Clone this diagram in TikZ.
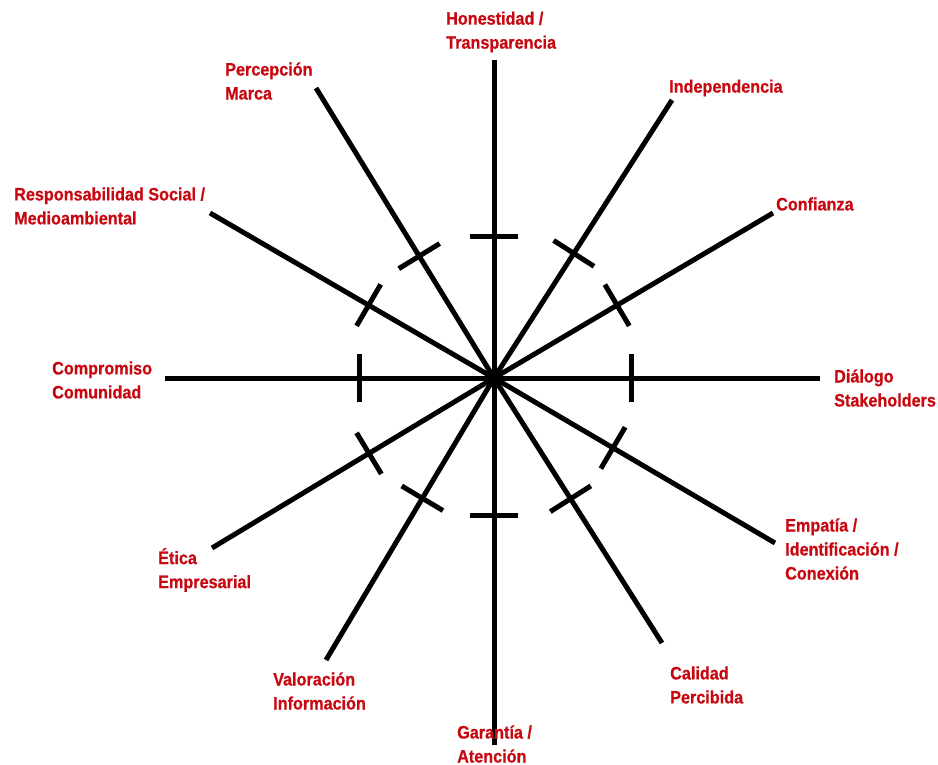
\documentclass[tikz,border=0pt]{standalone}
\usepackage{fontspec}
\setmainfont{Liberation Sans}
\newfontfamily\lblfont[FakeStretch=0.9,FakeBold=0.6]{Liberation Sans}
\usetikzlibrary{calc}
\definecolor{lblred}{RGB}{200,8,16}
\tikzset{
  spoke/.style={line width=5pt, black},
  tickmark/.style={line width=5pt, black},
  lbl/.style={font=\lblfont\bfseries\fontsize{18}{24}\selectfont, text=lblred, align=left, anchor=west, inner sep=0pt},
}
\begin{document}
\begin{tikzpicture}[x=1pt,y=-1pt]
\fill[white] (0,0) rectangle (938,765);
\useasboundingbox (0,0) rectangle (938,765);
\coordinate (c) at (494,378);
\coordinate (e1) at (494,60);
\coordinate (e2) at (672,100);
\coordinate (e3) at (773,213);
\coordinate (e4) at (820,378);
\coordinate (e5) at (775,543);
\coordinate (e6) at (662,643);
\coordinate (e7) at (494,745);
\coordinate (e8) at (326,660);
\coordinate (e9) at (212,548);
\coordinate (e10) at (165,378);
\coordinate (e11) at (210,213);
\coordinate (e12) at (316,88);
\foreach \e/\r in {e1/141,e2/148,e3/143,e4/137,e5/138,e6/143,e7/137,e8/140,e9/146,e10/135,e11/145,e12/143}{
  \draw[spoke] (c) -- (\e);
  \draw[tickmark] ($(c)!\r pt!(\e)!24pt!90:(\e)$) -- ($(c)!\r pt!(\e)!24pt!-90:(\e)$);
}
\node[lbl] (l1) at (446,32) {Honestidad /\\Transparencia};
\node[lbl] (l2) at (669,88) {Independencia};
\node[lbl] (l3) at (776,204) {Confianza};
\node[lbl] (l4) at (834,388) {Diálogo\\Stakeholders};
\node[lbl] (l5) at (785,549) {Empatía /\\Identificación /\\Conexión};
\node[lbl] (l6) at (670,685) {Calidad\\Percibida};
\node[lbl] (l7) at (457,744) {Garantía /\\Atención};
\node[lbl] (l8) at (273,691) {Valoración\\Información};
\node[lbl] (l9) at (158,570) {Ética\\Empresarial};
\node[lbl] (l10) at (52,380) {Compromiso\\Comunidad};
\node[lbl] (l11) at (14,206) {Responsabilidad Social /\\Medioambiental};
\node[lbl] (l12) at (225,81) {Percepción\\Marca};
\end{tikzpicture}
\end{document}
